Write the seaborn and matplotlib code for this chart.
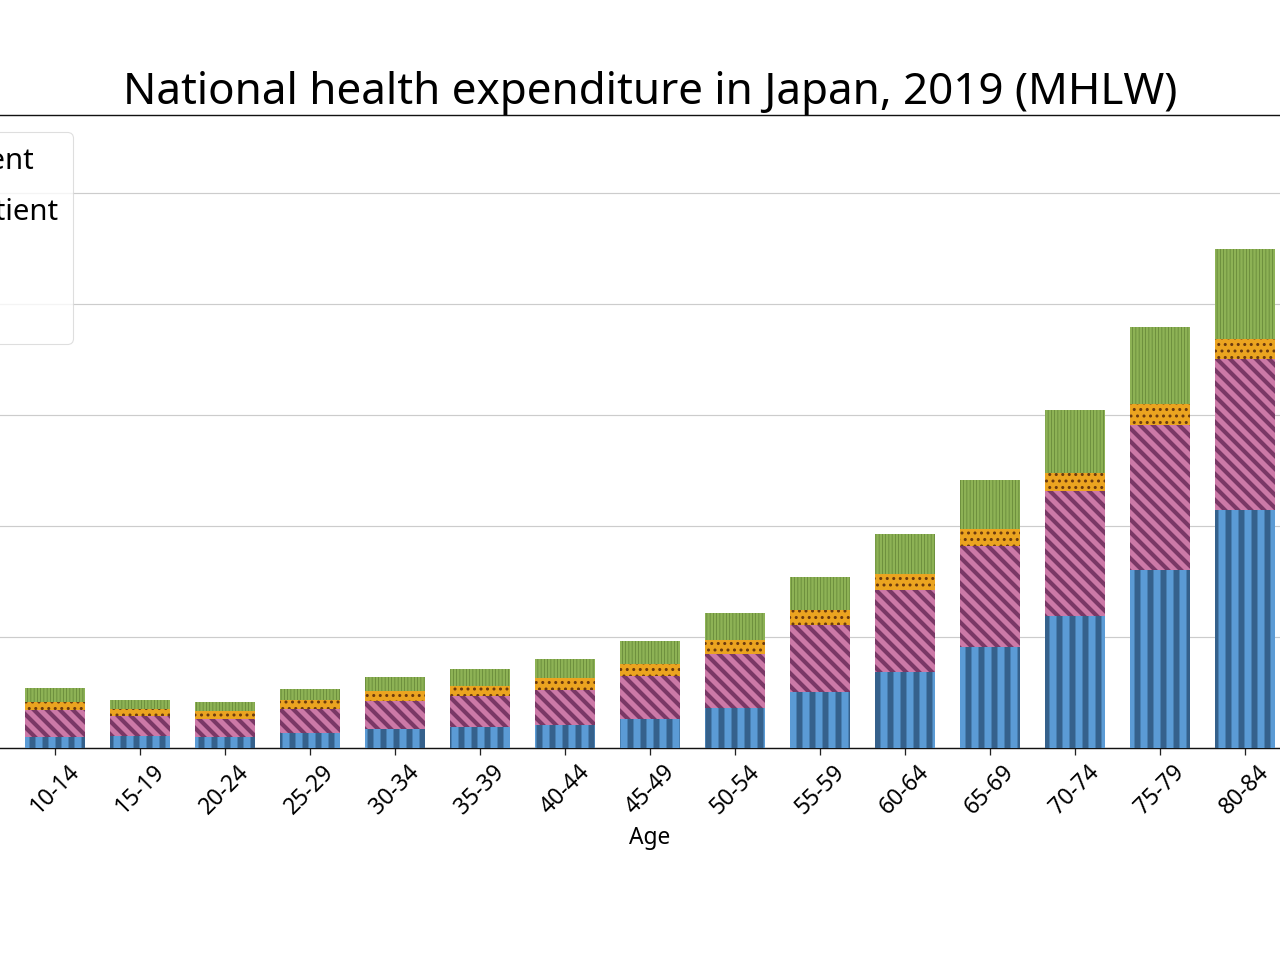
import matplotlib
matplotlib.use("Agg")
import matplotlib.pyplot as plt
from matplotlib.patches import Patch
import seaborn as sns
import pandas as pd

# ---- data (thousand yen per capita, MHLW 2019) ----
ages = ["0-4", "5-9", "10-14", "15-19", "20-24", "25-29", "30-34", "35-39",
        "40-44", "45-49", "50-54", "55-59", "60-64", "65-69", "70-74",
        "75-79", "80-84", "85-89", "90+"]
inpatient = [100, 22, 19, 22, 20, 27, 35, 38, 41, 53, 72, 101, 137, 182,
             237, 321, 428, 540, 650]
outpatient = [118, 62, 50, 35, 32, 43, 50, 55, 64, 77, 98, 120, 147, 182,
              225, 260, 273, 285, 260]
dental = [6, 20, 14, 13, 14, 16, 18, 19, 21, 22, 24, 27, 30, 31, 34, 38,
          36, 30, 20]
pharmacy = [24, 22, 25, 17, 16, 21, 25, 30, 34, 41, 50, 60, 71, 88, 113,
            140, 162, 175, 156]
series_names = ["Inpatient", "Outpatient", "Dental", "Drugs"]

title = "National health expenditure in Japan, 2019 (MHLW)"

faces = ["#5B9BD5", "#CC79A7", "#EBA420", "#8DB255"]
hatch_cols = ["#35618C", "#7A3866", "#6B3A0F", "#5E7F33"]
hatches = ["|", "\\\\", "..", "||||"]
hatch_lws = [5.5, 3.8, 1.6, 0.6]

sns.set_theme(style="whitegrid")
plt.rcParams["font.family"] = ["Noto Sans", "DejaVu Sans"]
plt.rcParams["text.color"] = "black"
plt.rcParams["axes.labelcolor"] = "black"
plt.rcParams["xtick.color"] = "black"
plt.rcParams["ytick.color"] = "black"

DPI = 78
fig = plt.figure(figsize=(1280 / DPI, 960 / DPI), dpi=DPI)
ax = fig.add_axes([-157.5 / 1280, 1 - 748 / 960, 1615 / 1280, (748 - 115) / 960])

df = pd.DataFrame({"Age": ages, series_names[0]: inpatient,
                   series_names[1]: outpatient, series_names[2]: dental,
                   series_names[3]: pharmacy})
cum = df[series_names].cumsum(axis=1)


def with_hatch_lw(orig_draw, lw):
    def draw(renderer):
        with plt.rc_context({"hatch.linewidth": lw}):
            return orig_draw(renderer)
    return draw


handles = []
# draw from the top layer down so each lower cumulative bar covers the one behind
for i in range(3, -1, -1):
    name = series_names[i]
    before = len(ax.patches)
    sns.barplot(x=df["Age"], y=cum[name], order=ages, color=faces[i],
                saturation=1, width=0.7, edgecolor=hatch_cols[i], linewidth=0,
                hatch=hatches[i], ax=ax, zorder=2 + (3 - i))
    for p in ax.patches[before:]:
        if hasattr(p, "set_hatch_linewidth"):
            p.set_hatch_linewidth(hatch_lws[i])
        else:
            p.draw = with_hatch_lw(p.draw, hatch_lws[i])
    handles.append(Patch(facecolor=faces[i], edgecolor=hatch_cols[i],
                         hatch=hatches[i], linewidth=0, label=name))

ax.set_ylim(0, 1140)
ax.set_xlim(-0.5, len(ages) - 0.5)
ax.yaxis.grid(True, color="#cccccc", linewidth=1.1)
ax.xaxis.grid(False)
for s in ax.spines.values():
    s.set_color("#111111")
    s.set_linewidth(1.3)
ax.tick_params(axis="x", bottom=True, length=6, width=1.2, color="#222222",
               labelsize=21, pad=5)
ax.tick_params(axis="y", left=True, labelsize=21)
plt.setp(ax.get_xticklabels(), rotation=45)
ax.set_xlabel("Age", fontsize=21, labelpad=6)
ax.set_ylabel("Per capita expenditure (thousand yen)", fontsize=21)
ax.set_title(title, fontsize=40.6, pad=10)

handles = handles[::-1]
leg = fig.legend(handles=handles, loc="upper right",
                 bbox_to_anchor=(73 / 1280, 1 - 132 / 960),
                 bbox_transform=fig.transFigure, borderaxespad=0,
                 fontsize=27, labelspacing=0.76, borderpad=0.5,
                 frameon=True, framealpha=0.8,
                 edgecolor="#d6d6d6", fancybox=True)

fig.savefig("out.png", dpi=DPI)
